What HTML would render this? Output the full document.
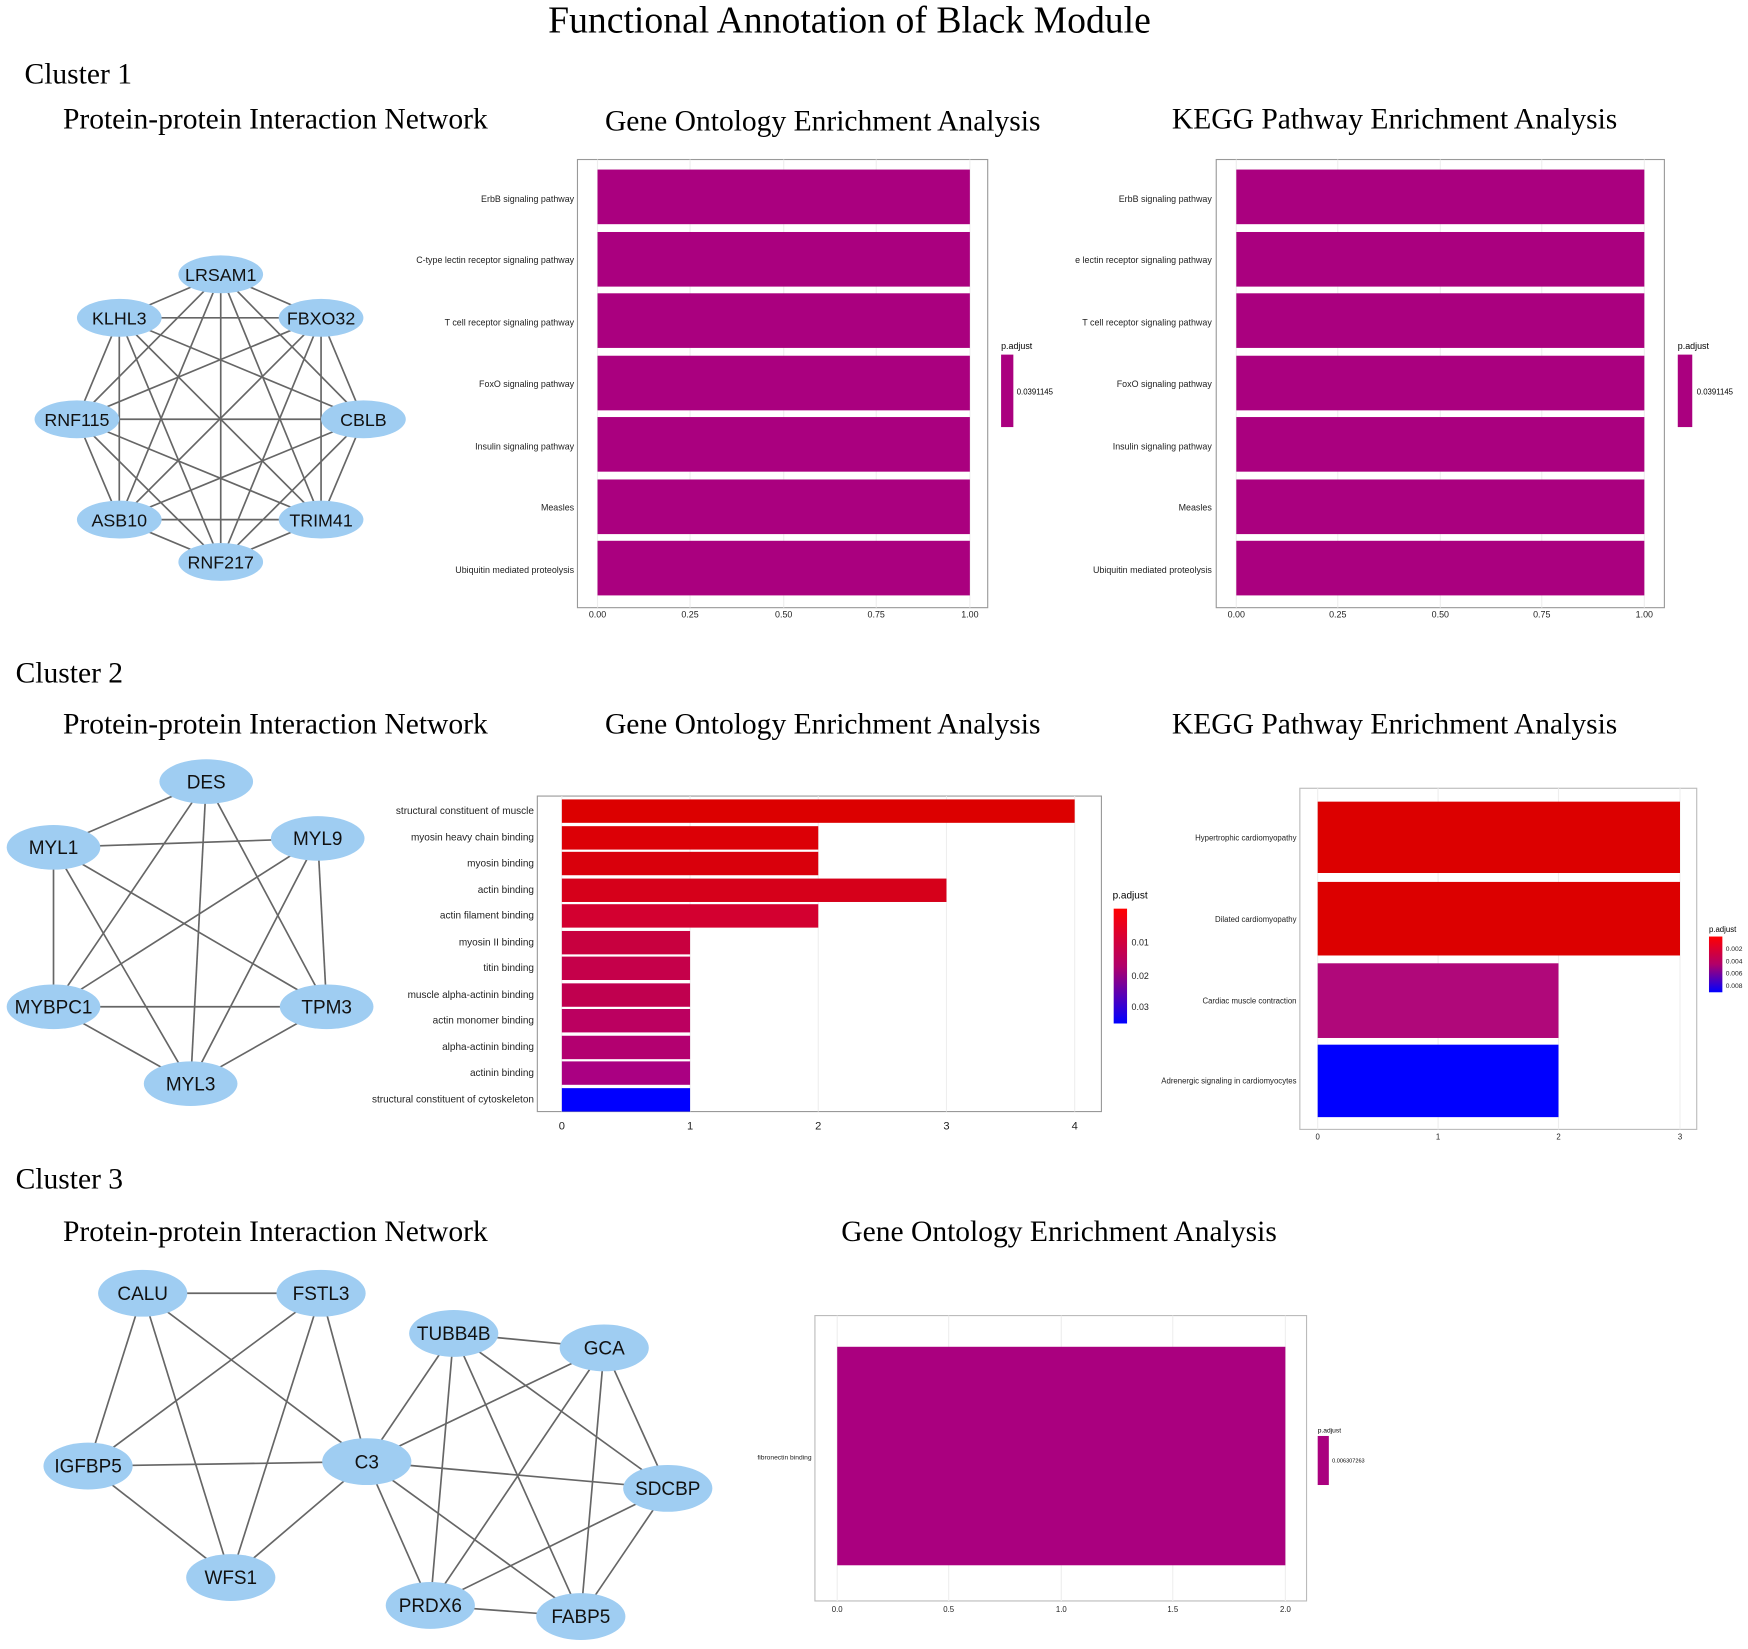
<!DOCTYPE html>
<html><head><meta charset="utf-8"><style>html,body{margin:0;padding:0;background:#fff}svg{display:block}</style></head><body>
<svg width="1748" height="1649" viewBox="0 0 1568 1479" xmlns="http://www.w3.org/2000/svg" font-family="Liberation Sans, sans-serif">
<rect width="1568" height="1479" fill="#fff"/>
<g font-family="Liberation Serif, serif" fill="#000">
<text x="762" y="29" font-size="33.8" text-anchor="middle">Functional Annotation of Black Module</text>
<text x="22" y="75" font-size="26.5">Cluster 1</text>
<text x="14" y="612" font-size="26.5">Cluster 2</text>
<text x="14" y="1066" font-size="26.5">Cluster 3</text>
<g font-size="26.5" text-anchor="middle">
<text x="247" y="115">Protein-protein Interaction Network</text>
<text x="738" y="117">Gene Ontology Enrichment Analysis</text>
<text x="1251" y="115">KEGG Pathway Enrichment Analysis</text>
<text x="247" y="658">Protein-protein Interaction Network</text>
<text x="738" y="658">Gene Ontology Enrichment Analysis</text>
<text x="1251" y="658">KEGG Pathway Enrichment Analysis</text>
<text x="247" y="1113">Protein-protein Interaction Network</text>
<text x="950" y="1113">Gene Ontology Enrichment Analysis</text>
</g></g>

<!-- PPI 1 -->
<g stroke="#666" stroke-width="1.5">
<line x1="198" y1="246" x2="107" y2="285"/><line x1="198" y1="246" x2="288" y2="285"/><line x1="198" y1="246" x2="69" y2="376"/><line x1="198" y1="246" x2="326" y2="376"/><line x1="198" y1="246" x2="107" y2="466"/><line x1="198" y1="246" x2="288" y2="466"/><line x1="198" y1="246" x2="198" y2="504"/>
<line x1="107" y1="285" x2="288" y2="285"/><line x1="107" y1="285" x2="69" y2="376"/><line x1="107" y1="285" x2="326" y2="376"/><line x1="107" y1="285" x2="107" y2="466"/><line x1="107" y1="285" x2="288" y2="466"/><line x1="107" y1="285" x2="198" y2="504"/>
<line x1="288" y1="285" x2="69" y2="376"/><line x1="288" y1="285" x2="326" y2="376"/><line x1="288" y1="285" x2="107" y2="466"/><line x1="288" y1="285" x2="288" y2="466"/><line x1="288" y1="285" x2="198" y2="504"/>
<line x1="69" y1="376" x2="326" y2="376"/><line x1="69" y1="376" x2="107" y2="466"/><line x1="69" y1="376" x2="288" y2="466"/><line x1="69" y1="376" x2="198" y2="504"/>
<line x1="326" y1="376" x2="107" y2="466"/><line x1="326" y1="376" x2="288" y2="466"/><line x1="326" y1="376" x2="198" y2="504"/>
<line x1="107" y1="466" x2="288" y2="466"/><line x1="107" y1="466" x2="198" y2="504"/><line x1="288" y1="466" x2="198" y2="504"/>
</g>
<g fill="#9fcdf2">
<ellipse cx="198" cy="246" rx="38" ry="17"/><ellipse cx="107" cy="285" rx="38" ry="17"/><ellipse cx="288" cy="285" rx="38" ry="17"/><ellipse cx="69" cy="376" rx="38" ry="17"/><ellipse cx="326" cy="376" rx="38" ry="17"/><ellipse cx="107" cy="466" rx="38" ry="17"/><ellipse cx="288" cy="466" rx="38" ry="17"/><ellipse cx="198" cy="504" rx="38" ry="17"/>
</g>
<g font-size="16" text-anchor="middle" fill="#111">
<text x="198" y="252">LRSAM1</text><text x="107" y="291">KLHL3</text><text x="288" y="291">FBXO32</text><text x="69" y="382">RNF115</text><text x="326" y="382">CBLB</text><text x="107" y="472">ASB10</text><text x="288" y="472">TRIM41</text><text x="198" y="510">RNF217</text>
</g>

<!-- GO 1 -->
<g>
<rect x="518" y="143" width="368" height="402" fill="#fff" stroke="#999"/>
<g stroke="#eee"><line x1="536" y1="143" x2="536" y2="545"/><line x1="619" y1="143" x2="619" y2="545"/><line x1="703" y1="143" x2="703" y2="545"/><line x1="786" y1="143" x2="786" y2="545"/><line x1="870" y1="143" x2="870" y2="545"/></g>
<g fill="#aa007f">
<rect x="536" y="152" width="334" height="49"/><rect x="536" y="208" width="334" height="49"/><rect x="536" y="263" width="334" height="49"/><rect x="536" y="319" width="334" height="49"/><rect x="536" y="374" width="334" height="49"/><rect x="536" y="430" width="334" height="49"/><rect x="536" y="485" width="334" height="49"/>
</g>
<g font-size="8" text-anchor="end" fill="#222">
<text x="515" y="181">ErbB signaling pathway</text><text x="515" y="236">C-type lectin receptor signaling pathway</text><text x="515" y="292">T cell receptor signaling pathway</text><text x="515" y="347">FoxO signaling pathway</text><text x="515" y="403">Insulin signaling pathway</text><text x="515" y="458">Measles</text><text x="515" y="514">Ubiquitin mediated proteolysis</text>
</g>
<g font-size="8" text-anchor="middle" fill="#222"><text x="536" y="554">0.00</text><text x="619" y="554">0.25</text><text x="703" y="554">0.50</text><text x="786" y="554">0.75</text><text x="870" y="554">1.00</text></g>
<text x="898" y="313" font-size="8">p.adjust</text>
<rect x="898" y="318" width="11" height="65" fill="#aa007f"/>
<text x="912" y="354" font-size="7">0.0391145</text>
</g>

<!-- KEGG 1 -->
<g>
<rect x="1091" y="143" width="402" height="402" fill="#fff" stroke="#999"/>
<g stroke="#eee"><line x1="1109" y1="143" x2="1109" y2="545"/><line x1="1200" y1="143" x2="1200" y2="545"/><line x1="1292" y1="143" x2="1292" y2="545"/><line x1="1383" y1="143" x2="1383" y2="545"/><line x1="1475" y1="143" x2="1475" y2="545"/></g>
<g fill="#aa007f">
<rect x="1109" y="152" width="366" height="49"/><rect x="1109" y="208" width="366" height="49"/><rect x="1109" y="263" width="366" height="49"/><rect x="1109" y="319" width="366" height="49"/><rect x="1109" y="374" width="366" height="49"/><rect x="1109" y="430" width="366" height="49"/><rect x="1109" y="485" width="366" height="49"/>
</g>
<g font-size="8" text-anchor="end" fill="#222">
<text x="1087" y="181">ErbB signaling pathway</text><text x="1087" y="236">e lectin receptor signaling pathway</text><text x="1087" y="292">T cell receptor signaling pathway</text><text x="1087" y="347">FoxO signaling pathway</text><text x="1087" y="403">Insulin signaling pathway</text><text x="1087" y="458">Measles</text><text x="1087" y="514">Ubiquitin mediated proteolysis</text>
</g>
<g font-size="8" text-anchor="middle" fill="#222"><text x="1109" y="554">0.00</text><text x="1200" y="554">0.25</text><text x="1292" y="554">0.50</text><text x="1383" y="554">0.75</text><text x="1475" y="554">1.00</text></g>
<text x="1505" y="313" font-size="8">p.adjust</text>
<rect x="1505" y="318" width="13" height="65" fill="#aa007f"/>
<text x="1522" y="354" font-size="7">0.0391145</text>
</g>

<!-- PPI 2 -->
<g stroke="#666" stroke-width="1.5">
<line x1="185" y1="701" x2="48" y2="760"/><line x1="185" y1="701" x2="48" y2="903"/><line x1="185" y1="701" x2="171" y2="972"/><line x1="185" y1="701" x2="293" y2="903"/>
<line x1="48" y1="760" x2="285" y2="752"/><line x1="48" y1="760" x2="48" y2="903"/><line x1="48" y1="760" x2="171" y2="972"/><line x1="48" y1="760" x2="293" y2="903"/>
<line x1="285" y1="752" x2="48" y2="903"/><line x1="285" y1="752" x2="171" y2="972"/><line x1="285" y1="752" x2="293" y2="903"/>
<line x1="48" y1="903" x2="293" y2="903"/><line x1="48" y1="903" x2="171" y2="972"/><line x1="293" y1="903" x2="171" y2="972"/>
</g>
<g fill="#9fcdf2">
<ellipse cx="185" cy="701" rx="42" ry="20"/><ellipse cx="48" cy="760" rx="42" ry="20"/><ellipse cx="285" cy="752" rx="42" ry="20"/><ellipse cx="48" cy="903" rx="42" ry="20"/><ellipse cx="293" cy="903" rx="42" ry="20"/><ellipse cx="171" cy="972" rx="42" ry="20"/>
</g>
<g font-size="17" text-anchor="middle" fill="#111">
<text x="185" y="707">DES</text><text x="48" y="766">MYL1</text><text x="285" y="758">MYL9</text><text x="48" y="909">MYBPC1</text><text x="293" y="909">TPM3</text><text x="171" y="978">MYL3</text>
</g>

<!-- GO 2 -->
<g>
<rect x="482" y="714" width="506" height="283" fill="#fff" stroke="#999"/>
<g stroke="#eee"><line x1="504" y1="714" x2="504" y2="997"/><line x1="619" y1="714" x2="619" y2="997"/><line x1="734" y1="714" x2="734" y2="997"/><line x1="849" y1="714" x2="849" y2="997"/><line x1="964" y1="714" x2="964" y2="997"/></g>
<rect x="504" y="717" width="460" height="21" fill="#dc0000"/>
<rect x="504" y="741" width="230" height="21" fill="#dc0006"/>
<rect x="504" y="764" width="230" height="21" fill="#d9000c"/>
<rect x="504" y="788" width="345" height="21" fill="#d6001a"/>
<rect x="504" y="811" width="230" height="21" fill="#d30030"/>
<rect x="504" y="835" width="115" height="21" fill="#c8003f"/>
<rect x="504" y="858" width="115" height="21" fill="#c5004a"/>
<rect x="504" y="882" width="115" height="21" fill="#c0004f"/>
<rect x="504" y="905" width="115" height="21" fill="#bb0060"/>
<rect x="504" y="929" width="115" height="21" fill="#b30070"/>
<rect x="504" y="952" width="115" height="21" fill="#aa0082"/>
<rect x="504" y="976" width="115" height="21" fill="#0000ff"/>
<g font-size="9" text-anchor="end" fill="#222">
<text x="479" y="730">structural constituent of muscle</text><text x="479" y="754">myosin heavy chain binding</text><text x="479" y="777">myosin binding</text><text x="479" y="801">actin binding</text><text x="479" y="824">actin filament binding</text><text x="479" y="848">myosin II binding</text><text x="479" y="871">titin binding</text><text x="479" y="895">muscle alpha-actinin binding</text><text x="479" y="918">actin monomer binding</text><text x="479" y="942">alpha-actinin binding</text><text x="479" y="965">actinin binding</text><text x="479" y="989">structural constituent of cytoskeleton</text>
</g>
<g font-size="10" text-anchor="middle" fill="#222"><text x="504" y="1013">0</text><text x="619" y="1013">1</text><text x="734" y="1013">2</text><text x="849" y="1013">3</text><text x="964" y="1013">4</text></g>
<text x="998" y="806" font-size="9">p.adjust</text>
<defs>
<linearGradient id="g2" x1="0" y1="0" x2="0" y2="1"><stop offset="0" stop-color="#ff0000"/><stop offset="0.5" stop-color="#b0006a"/><stop offset="1" stop-color="#0000ff"/></linearGradient>
</defs>
<rect x="999" y="815" width="12" height="103" fill="url(#g2)"/>
<g font-size="8" fill="#222"><text x="1015" y="848">0.01</text><text x="1015" y="878">0.02</text><text x="1015" y="906">0.03</text></g>
</g>

<!-- KEGG 2 -->
<g>
<rect x="1166" y="707" width="356" height="306" fill="#fff" stroke="#bbb"/>
<g stroke="#eee"><line x1="1182" y1="707" x2="1182" y2="1013"/><line x1="1290" y1="707" x2="1290" y2="1013"/><line x1="1398" y1="707" x2="1398" y2="1013"/><line x1="1507" y1="707" x2="1507" y2="1013"/></g>
<rect x="1182" y="719" width="325" height="64" fill="#dc0000"/>
<rect x="1182" y="791" width="325" height="66" fill="#dc0000"/>
<rect x="1182" y="864" width="216" height="67" fill="#b0087a"/>
<rect x="1182" y="937" width="216" height="65" fill="#0000ff"/>
<g font-size="7" text-anchor="end" fill="#222">
<text x="1163" y="754">Hypertrophic cardiomyopathy</text><text x="1163" y="827">Dilated cardiomyopathy</text><text x="1163" y="900">Cardiac muscle contraction</text><text x="1163" y="972">Adrenergic signaling in cardiomyocytes</text>
</g>
<g font-size="7" text-anchor="middle" fill="#222"><text x="1182" y="1022">0</text><text x="1290" y="1022">1</text><text x="1398" y="1022">2</text><text x="1507" y="1022">3</text></g>
<text x="1533" y="836" font-size="7">p.adjust</text>
<rect x="1533" y="840" width="12" height="50" fill="url(#g2)"/>
<g font-size="6" fill="#222"><text x="1548" y="853">0.002</text><text x="1548" y="864">0.004</text><text x="1548" y="875">0.006</text><text x="1548" y="886">0.008</text></g>
</g>

<!-- PPI 3 -->
<g stroke="#666" stroke-width="1.5">
<line x1="128" y1="1160" x2="288" y2="1160"/><line x1="128" y1="1160" x2="79" y2="1315"/><line x1="128" y1="1160" x2="207" y2="1415"/><line x1="128" y1="1160" x2="329" y2="1311"/>
<line x1="288" y1="1160" x2="79" y2="1315"/><line x1="288" y1="1160" x2="207" y2="1415"/><line x1="288" y1="1160" x2="329" y2="1311"/>
<line x1="79" y1="1315" x2="329" y2="1311"/><line x1="79" y1="1315" x2="207" y2="1415"/><line x1="207" y1="1415" x2="329" y2="1311"/>
<line x1="407" y1="1196" x2="542" y2="1209"/><line x1="407" y1="1196" x2="329" y2="1311"/><line x1="407" y1="1196" x2="386" y2="1440"/><line x1="407" y1="1196" x2="521" y2="1450"/><line x1="407" y1="1196" x2="599" y2="1335"/>
<line x1="542" y1="1209" x2="329" y2="1311"/><line x1="542" y1="1209" x2="386" y2="1440"/><line x1="542" y1="1209" x2="521" y2="1450"/><line x1="542" y1="1209" x2="599" y2="1335"/>
<line x1="329" y1="1311" x2="599" y2="1335"/><line x1="329" y1="1311" x2="386" y2="1440"/><line x1="329" y1="1311" x2="521" y2="1450"/>
<line x1="599" y1="1335" x2="386" y2="1440"/><line x1="599" y1="1335" x2="521" y2="1450"/><line x1="386" y1="1440" x2="521" y2="1450"/>
</g>
<g fill="#9fcdf2">
<ellipse cx="128" cy="1160" rx="40" ry="21"/><ellipse cx="288" cy="1160" rx="40" ry="21"/><ellipse cx="407" cy="1196" rx="40" ry="21"/><ellipse cx="542" cy="1209" rx="40" ry="21"/><ellipse cx="79" cy="1315" rx="40" ry="21"/><ellipse cx="329" cy="1311" rx="40" ry="21"/><ellipse cx="599" cy="1335" rx="40" ry="21"/><ellipse cx="207" cy="1415" rx="40" ry="21"/><ellipse cx="386" cy="1440" rx="40" ry="21"/><ellipse cx="521" cy="1450" rx="40" ry="21"/>
</g>
<g font-size="17" text-anchor="middle" fill="#111">
<text x="128" y="1166">CALU</text><text x="288" y="1166">FSTL3</text><text x="407" y="1202">TUBB4B</text><text x="542" y="1215">GCA</text><text x="79" y="1321">IGFBP5</text><text x="329" y="1317">C3</text><text x="599" y="1341">SDCBP</text><text x="207" y="1421">WFS1</text><text x="386" y="1446">PRDX6</text><text x="521" y="1456">FABP5</text>
</g>

<!-- GO 3 -->
<g>
<rect x="731" y="1180" width="441" height="256" fill="#fff" stroke="#bbb"/>
<g stroke="#eee"><line x1="751" y1="1180" x2="751" y2="1436"/><line x1="851" y1="1180" x2="851" y2="1436"/><line x1="952" y1="1180" x2="952" y2="1436"/><line x1="1052" y1="1180" x2="1052" y2="1436"/><line x1="1153" y1="1180" x2="1153" y2="1436"/></g>
<rect x="751" y="1208" width="402" height="196" fill="#aa007f"/>
<text x="728" y="1309" font-size="6" text-anchor="end" fill="#222">fibronectin binding</text>
<g font-size="7" text-anchor="middle" fill="#222"><text x="751" y="1446">0.0</text><text x="851" y="1446">0.5</text><text x="952" y="1446">1.0</text><text x="1052" y="1446">1.5</text><text x="1153" y="1446">2.0</text></g>
<text x="1182" y="1285" font-size="6">p.adjust</text>
<rect x="1182" y="1288" width="10" height="44" fill="#aa007f"/>
<text x="1195" y="1312" font-size="5">0.006307263</text>
</g>
</svg>
</body></html>
